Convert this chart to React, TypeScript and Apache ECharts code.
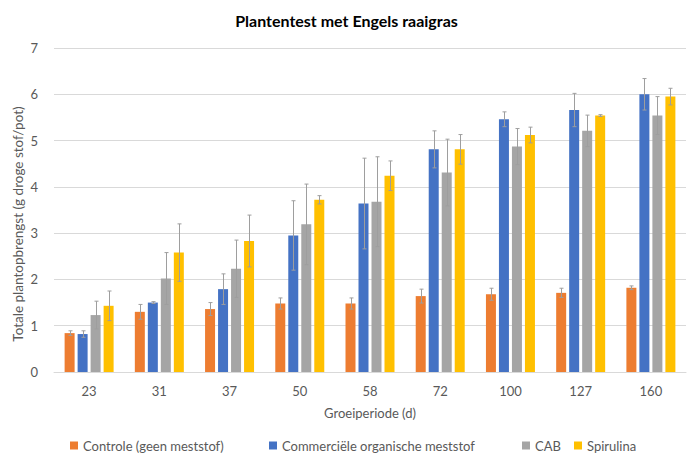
import React, { useEffect, useRef } from "react";
import * as echarts from "echarts";

const categories = ["23", "31", "37", "50", "58", "72", "100", "127", "160"];
const seriesNames = [
  "Controle (geen meststof)",
  "Commerciële organische meststof",
  "CAB",
  "Spirulina",
];
const controle = [0.84, 1.3, 1.36, 1.48, 1.48, 1.64, 1.68, 1.71, 1.82];
const controleErr = [0.05, 0.16, 0.14, 0.12, 0.12, 0.15, 0.13, 0.1, 0.04];
const commercieel = [0.82, 1.5, 1.79, 2.95, 3.64, 4.81, 5.46, 5.66, 6.0];
const commercieelErr = [0.07, 0.02, 0.33, 0.75, 0.98, 0.4, 0.16, 0.36, 0.34];
const cab = [1.23, 2.02, 2.23, 3.19, 3.68, 4.31, 4.87, 5.21, 5.54];
const cabErr = [0.3, 0.56, 0.62, 0.87, 0.97, 0.72, 0.39, 0.34, 0.41];
const spirulina = [1.43, 2.58, 2.83, 3.72, 4.24, 4.81, 5.12, 5.54, 5.95];
const spirulinaErr = [0.32, 0.62, 0.56, 0.09, 0.32, 0.32, 0.17, 0.02, 0.18];
const colors = ["#ED7D31", "#4472C4", "#A5A5A5", "#FFC000"];
const yAxisTitle = "Totale plantopbrengst (g droge stof/pot)";

const FONT = "Lato, 'Open Sans', sans-serif";
const TEXT = "#595959";

export default function App() {
  const ref = useRef<HTMLDivElement>(null);
  useEffect(() => {
    if (!ref.current) return;
    document.body.style.margin = "0";
    const chart = echarts.init(ref.current, null, { renderer: "svg" });
    const values = [controle, commercieel, cab, spirulina];
    const errs = [controleErr, commercieelErr, cabErr, spirulinaErr];
    const barW = 10;
    const gapRatio = 0.3;
    const gapPx = barW * gapRatio;
    const total = values.length * barW + (values.length - 1) * gapPx;

    const bars = values.map((v, i) => ({
      type: "bar",
      name: seriesNames[i],
      data: v,
      barWidth: barW,
      barGap: gapRatio * 100 + "%",
      itemStyle: { color: colors[i] },
    }));
    const errorSeries = values.map((v, i) => ({
      type: "custom",
      name: seriesNames[i] + " err",
      z: 5,
      data: v.map((val, k) => [k, val, errs[i][k]]),
      encode: { x: 0, y: 1 },
      renderItem: (params: any, api: any) => {
        const idx = api.value(0);
        const val = api.value(1);
        const e = api.value(2);
        const c = api.coord([idx, val]);
        const offset = -total / 2 + i * (barW + gapPx) + barW / 2;
        const x = Math.round(c[0] + offset) + 0.5;
        const top = api.coord([idx, val + e])[1];
        const bot = api.coord([idx, val - e])[1];
        const st = { stroke: "#9E9E9E", lineWidth: 1 };
        return {
          type: "group",
          children: [
            { type: "line", shape: { x1: x, y1: top, x2: x, y2: bot }, style: st },
            { type: "line", shape: { x1: x - 2, y1: top, x2: x + 2, y2: top }, style: st },
            { type: "line", shape: { x1: x - 2, y1: bot, x2: x + 2, y2: bot }, style: st },
          ],
        };
      },
    }));

    const legendLefts = [65, 264, 517, 569];
    const legends = seriesNames.map((n, i) => ({
      data: [n],
      left: legendLefts[i],
      top: 434,
      itemWidth: 8,
      itemHeight: 8,
      itemGap: 0,
      textStyle: { fontFamily: FONT, fontSize: 13, color: TEXT },
      icon: "rect",
    }));

    chart.setOption({
      animation: false,
      title: {
        text: "Plantentest met Engels raaigras",
        left: "center",
        top: 7,
        textStyle: { fontFamily: FONT, fontSize: 16, fontWeight: "bold", color: "#000" },
      },
      legend: legends,
      graphic: [
        {
          type: "text",
          x: 18,
          y: 224,
          rotation: Math.PI / 2,
          style: {
            text: yAxisTitle,
            fontFamily: FONT,
            fontSize: 13.5,
            fill: TEXT,
            align: "center",
            verticalAlign: "middle",
          },
        },
      ],
      grid: { left: 54, right: 7, top: 48, bottom: 81 },
      xAxis: {
        type: "category",
        data: categories,
        name: "Groeiperiode (d)",
        nameLocation: "middle",
        nameGap: 34,
        nameTextStyle: { fontFamily: FONT, fontSize: 13, color: TEXT },
        axisLine: { lineStyle: { color: "#D9D9D9" } },
        axisTick: { show: false },
        axisLabel: { fontFamily: FONT, fontSize: 13, color: TEXT, margin: 12 },
      },
      yAxis: {
        type: "value",
        min: 0,
        max: 7,
        interval: 1,
        axisLabel: { fontFamily: FONT, fontSize: 13, color: TEXT, margin: 16 },
        splitLine: { lineStyle: { color: "#D9D9D9" } },
      },
      series: [...bars, ...errorSeries],
    });
    return () => chart.dispose();
  }, []);
  return <div ref={ref} style={{ width: 693, height: 453 }} />;
}
